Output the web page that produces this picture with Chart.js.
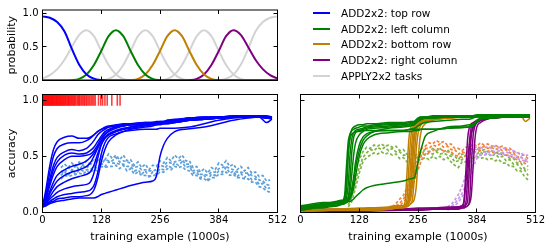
<!DOCTYPE html>
<html>
<head>
<meta charset="utf-8">
<script src="https://cdn.jsdelivr.net/npm/chart.js@4.4.1/dist/chart.umd.min.js"></script>
<style>
  html, body { margin: 0; padding: 0; background: #fff; }
  #wrap { position: relative; width: 554px; height: 249px; overflow: hidden; font-family: "DejaVu Sans", sans-serif; }
  #wrap canvas { position: absolute; left: 0; top: 0; }
  .row { position: absolute; left: 313px; height: 14px; font-size: 10.5px; line-height: 14px; white-space: nowrap; color: #000; }
  .row i { position: absolute; left: 0; top: 6px; width: 17px; height: 2px; }
  .row span { position: absolute; left: 28px; top: 0; }
</style>
</head>
<body>
<div id="wrap">
  <canvas id="top" width="554" height="249"></canvas>
  <canvas id="left" width="554" height="249"></canvas>
  <canvas id="right" width="554" height="249"></canvas>
  <div id="legend"></div>
</div>
<script>
// ---- data (x in thousands of training examples) ----
const X_TICKS = [0, 128, 256, 384, 512];
const Y_TICKS = [0, 0.5, 1.0];

// top panel: task probabilities
const PROB_X = [0,16,32,48,64,80,96,112,128,144,160,176,192,208,224,240,256,272,288,304,320,336,352,368,384,400,416,432,448,464,480,496,512];
const probTopRow    = [.955,.935,.87,.73,.47,.235,.09,.027,.006,0,0,0,0,0,0,0,0,0,0,0,0,0,0,0,0,0,0,0,0,0,0,0,0];
const probApplyA    = [.03,.08,.17,.31,.50,.68,.75,.66,.44,.23,.09,.025,.005,0,0,0,0,0,0,0,0,0,0,0,0,0,0,0,0,0,0,0,0];
const probLeftCol   = [0,0,0,0,.005,.025,.09,.23,.44,.66,.75,.66,.44,.23,.09,.025,.005,0,0,0,0,0,0,0,0,0,0,0,0,0,0,0,0];
const probApplyB    = [0,0,0,0,0,0,0,0,.005,.025,.09,.23,.44,.66,.75,.66,.44,.23,.09,.025,.005,0,0,0,0,0,0,0,0,0,0,0,0];
const probBottomRow = [0,0,0,0,0,0,0,0,0,0,0,0,.005,.025,.09,.23,.44,.66,.75,.66,.44,.23,.09,.025,.005,0,0,0,0,0,0,0,0];
const probApplyC    = [0,0,0,0,0,0,0,0,0,0,0,0,0,0,0,0,.005,.025,.09,.23,.44,.66,.75,.66,.44,.23,.09,.025,.005,0,0,0,0];
const probRightCol  = [0,0,0,0,0,0,0,0,0,0,0,0,0,0,0,0,0,0,0,0,.005,.025,.09,.23,.44,.66,.75,.68,.50,.31,.17,.08,.03];
const probApplyD    = [0,0,0,0,0,0,0,0,0,0,0,0,0,0,0,0,0,0,0,0,0,0,0,0,.006,.027,.09,.235,.47,.73,.87,.935,.955];

// left panel: ADD2x2 top row runs (solid) and APPLY2x2 runs (dashed)
const RUN_X = [0,8,16,24,32,48,64,80,96,104,112,120,128,136,144,160,176,192,224,240,248,256,264,272,288,320,352,384,416,448,472,488,500];
const topRowRuns = [
  [.05,.22,.42,.56,.63,.67,.68,.66,.66,.67,.69,.72,.74,.75,.76,.77,.78,.78,.79,.79,.80,.80,.80,.81,.82,.84,.85,.85,.86,.86,.85,.85,.84],
  [.05,.18,.36,.50,.57,.61,.62,.62,.64,.66,.69,.72,.74,.76,.77,.78,.79,.79,.80,.80,.80,.81,.81,.82,.83,.84,.85,.85,.86,.86,.86,.86,.85],
  [.05,.16,.30,.42,.49,.54,.56,.55,.57,.60,.64,.69,.72,.74,.76,.77,.78,.79,.80,.80,.81,.81,.81,.82,.82,.84,.84,.85,.85,.86,.86,.85,.84],
  [.05,.14,.27,.38,.45,.51,.53,.52,.53,.55,.58,.63,.68,.72,.74,.76,.77,.78,.79,.80,.80,.80,.81,.81,.82,.83,.84,.85,.85,.85,.85,.84,.83],
  [.05,.13,.24,.34,.41,.47,.50,.50,.51,.52,.55,.60,.66,.70,.73,.76,.77,.78,.79,.79,.79,.80,.80,.80,.81,.83,.84,.84,.85,.85,.85,.85,.84],
  [.05,.11,.19,.27,.33,.38,.41,.43,.46,.49,.53,.58,.64,.69,.72,.75,.77,.78,.79,.79,.80,.80,.80,.81,.82,.83,.84,.85,.85,.86,.86,.85,.85],
  [.05,.10,.17,.23,.28,.33,.36,.38,.41,.44,.50,.57,.63,.67,.70,.73,.75,.76,.78,.79,.79,.79,.80,.80,.81,.82,.83,.84,.85,.85,.85,.85,.84],
  [.05,.09,.14,.19,.23,.27,.30,.32,.34,.36,.42,.52,.61,.66,.69,.72,.74,.76,.78,.78,.79,.79,.79,.80,.80,.82,.83,.84,.85,.85,.85,.85,.84],
  [.05,.08,.12,.15,.18,.21,.23,.24,.25,.27,.35,.48,.60,.66,.69,.72,.74,.75,.77,.78,.78,.79,.79,.79,.80,.82,.83,.84,.85,.85,.85,.84,.84],
  [.05,.07,.10,.12,.14,.16,.17,.18,.19,.20,.24,.35,.52,.62,.67,.70,.72,.73,.74,.74,.74,.75,.75,.75,.75,.76,.79,.82,.84,.85,.85,.84,.84],
  [.05,.07,.09,.10,.12,.13,.14,.14,.15,.16,.20,.30,.45,.56,.63,.69,.72,.74,.76,.77,.78,.78,.79,.79,.80,.82,.83,.84,.85,.85,.85,.85,.84],
  [.05,.06,.08,.09,.10,.11,.12,.13,.13,.13,.13,.14,.16,.17,.18,.20,.22,.24,.27,.28,.32,.50,.60,.66,.72,.745,.76,.79,.82,.84,.85,.80,.83]
];
const APPLY_X_LEFT = [40,48,56,64,72,80,88,96,104,112,120,128,136,144,152,160,168,176,184,192,200,208,216,224,232,240,248,256,264,272,280,288,296,304,312,320,328,336,344,352,360,368,376,384,392,400,408,416,424,432,440,448,456,464,472,480,488,496];
const applyRunsLeft = [
  [.40,.43,.40,.44,.41,.45,.42,.46,.43,.48,.45,.50,.47,.52,.48,.51,.47,.51,.46,.47,.42,.45,.40,.43,.38,.42,.41,.46,.44,.49,.46,.51,.48,.51,.46,.46,.40,.41,.36,.39,.35,.40,.38,.44,.42,.46,.41,.43,.38,.41,.37,.40,.35,.36,.32,.33,.28,.29],
  [.37,.35,.40,.37,.42,.38,.42,.39,.44,.41,.46,.43,.47,.46,.46,.49,.45,.46,.45,.44,.40,.41,.38,.38,.37,.37,.38,.42,.41,.45,.44,.45,.46,.47,.43,.43,.37,.38,.34,.34,.33,.36,.36,.39,.40,.41,.39,.38,.36,.36,.35,.35,.33,.32,.29,.28,.25,.24],
  [.33,.36,.33,.38,.34,.38,.37,.38,.38,.41,.39,.44,.41,.45,.44,.44,.43,.43,.41,.41,.37,.38,.34,.37,.32,.36,.34,.39,.38,.42,.40,.44,.42,.45,.40,.41,.35,.36,.31,.33,.29,.34,.33,.37,.36,.40,.35,.37,.32,.35,.31,.34,.29,.30,.25,.26,.21,.22],
  [.30,.33,.32,.33,.34,.35,.34,.37,.35,.39,.36,.41,.40,.41,.41,.42,.39,.42,.37,.39,.34,.36,.33,.33,.32,.33,.33,.36,.36,.39,.38,.41,.40,.41,.38,.37,.33,.33,.30,.30,.28,.31,.31,.34,.34,.36,.33,.34,.31,.31,.30,.30,.27,.27,.23,.22,.19,.18]
];
// red rug: training examples where the top-row task was drawn
const rugX = [0,1,2,3,5,6,7,9,10,11,13,14,15,17,18,20,21,22,24,25,27,28,30,31,33,34,36,37,39,40,42,44,45,47,49,50,52,54,56,57,59,61,63,65,
  67,69,71,73,76,78,80,82,85,87,90,92,95,97,100,103,106,109,112,115,
  122,127,131,136,141,151,163,169];

// right panel: other ADD2x2 tasks (solid) and APPLY2x2 runs (dashed)
const LEFTCOL_X = [0,16,32,48,64,80,88,96,100,104,108,112,116,120,128,136,144,160,192,224,240,248,256,264,272,288,320,352,368,376,384,392,416,448,480,500];
const leftColRuns = [
  [.04,.05,.05,.06,.07,.08,.09,.15,.40,.63,.70,.73,.74,.75,.76,.77,.77,.78,.79,.79,.80,.81,.84,.85,.85,.85,.85,.86,.86,.86,.86,.86,.87,.87,.87,.86],
  [.03,.04,.05,.05,.06,.07,.08,.10,.20,.50,.68,.74,.76,.77,.78,.78,.79,.79,.80,.80,.81,.81,.84,.85,.85,.86,.86,.86,.86,.86,.87,.87,.87,.87,.87,.87],
  [.05,.06,.07,.08,.08,.09,.10,.11,.13,.25,.52,.66,.71,.73,.74,.75,.76,.77,.78,.78,.79,.80,.83,.84,.85,.85,.85,.86,.86,.86,.86,.86,.86,.87,.87,.86],
  [.02,.03,.04,.04,.05,.06,.07,.08,.09,.12,.30,.55,.67,.71,.73,.74,.75,.76,.77,.78,.78,.79,.82,.84,.84,.85,.85,.85,.85,.86,.86,.86,.86,.86,.86,.85],
  [.06,.07,.08,.09,.09,.10,.11,.11,.12,.14,.20,.35,.52,.62,.69,.72,.74,.75,.76,.77,.78,.79,.82,.83,.84,.84,.85,.85,.85,.85,.86,.86,.86,.86,.86,.86],
  [.03,.04,.05,.06,.07,.08,.08,.09,.10,.11,.13,.18,.28,.40,.55,.64,.68,.72,.75,.76,.77,.78,.81,.83,.84,.84,.85,.85,.85,.85,.86,.86,.86,.86,.86,.85],
  [.04,.05,.06,.07,.08,.09,.10,.12,.25,.55,.66,.70,.71,.72,.72,.73,.73,.73,.73,.73,.74,.75,.77,.79,.80,.81,.82,.83,.83,.84,.85,.85,.85,.86,.86,.85],
  [.05,.06,.07,.07,.08,.09,.10,.10,.11,.12,.15,.22,.32,.45,.60,.67,.70,.72,.73,.73,.74,.74,.74,.74,.74,.74,.75,.755,.76,.77,.82,.84,.85,.85,.85,.85],
  [.02,.03,.04,.05,.06,.06,.07,.08,.09,.10,.12,.16,.22,.32,.50,.60,.65,.69,.71,.72,.72,.73,.73,.74,.74,.74,.75,.76,.76,.78,.81,.83,.84,.85,.85,.85],
  [.03,.04,.05,.06,.07,.08,.08,.09,.09,.10,.10,.11,.12,.14,.17,.20,.22,.24,.26,.28,.30,.31,.45,.58,.68,.72,.76,.77,.78,.78,.81,.83,.84,.85,.85,.85]
];
const BOTTOMROW_X = [0,64,128,192,208,224,228,232,236,240,244,248,252,256,260,264,272,288,320,352,384,416,448,480,490,500];
const bottomRowRuns = [
  [.02,.02,.03,.04,.05,.06,.10,.35,.65,.75,.78,.79,.80,.81,.82,.82,.83,.84,.85,.85,.86,.86,.86,.86,.86,.86],
  [.01,.02,.02,.03,.04,.05,.06,.12,.40,.66,.75,.78,.80,.81,.82,.83,.84,.85,.85,.86,.86,.86,.87,.87,.87,.86],
  [.02,.03,.03,.04,.05,.05,.06,.08,.15,.45,.68,.76,.79,.80,.81,.82,.83,.84,.85,.85,.86,.86,.86,.86,.86,.86],
  [.01,.02,.03,.03,.04,.05,.05,.06,.09,.25,.55,.72,.77,.79,.80,.81,.82,.84,.85,.85,.85,.86,.86,.86,.81,.84],
  [.02,.02,.03,.04,.05,.06,.07,.08,.10,.18,.42,.66,.75,.78,.80,.81,.82,.83,.84,.85,.85,.86,.86,.86,.86,.86],
  [.03,.03,.04,.05,.06,.06,.07,.08,.09,.12,.25,.50,.70,.76,.78,.80,.81,.83,.84,.85,.85,.86,.86,.86,.86,.85],
  [.01,.02,.02,.03,.04,.04,.05,.05,.06,.08,.12,.30,.55,.70,.76,.79,.81,.83,.84,.85,.86,.86,.86,.86,.86,.86],
  [.02,.02,.03,.04,.05,.05,.06,.06,.07,.08,.09,.12,.22,.45,.65,.74,.79,.82,.84,.85,.85,.85,.86,.86,.86,.86]
];
const RIGHTCOL_X = [0,128,224,256,288,320,340,352,356,360,364,368,372,376,380,384,392,400,416,448,480,500];
const rightColRuns = [
  [.02,.02,.03,.03,.03,.03,.04,.05,.08,.35,.65,.76,.79,.80,.81,.82,.83,.84,.85,.86,.86,.86],
  [.01,.02,.02,.02,.03,.03,.03,.04,.05,.08,.30,.62,.76,.79,.80,.81,.82,.83,.85,.85,.86,.86],
  [.02,.02,.03,.03,.04,.04,.05,.05,.06,.07,.10,.40,.68,.77,.79,.80,.82,.83,.84,.85,.86,.85],
  [.01,.01,.02,.02,.03,.03,.03,.04,.04,.05,.06,.10,.40,.68,.77,.80,.82,.83,.84,.85,.85,.85],
  [.02,.02,.02,.03,.03,.04,.04,.04,.05,.05,.06,.08,.15,.40,.65,.76,.80,.82,.84,.85,.86,.86],
  [.03,.03,.03,.04,.04,.05,.05,.06,.10,.25,.45,.60,.70,.75,.78,.80,.82,.83,.84,.85,.85,.85]
];
const APPLY_X_GREEN = [104,112,120,128,136,144,152,160,168,176,184,192,200,208,216,224,232,240,248,256,264,272,280,288,296,304,312,320,328,336,344,352,360,368,376,384,392,400,408,416,424,432,440,448,456,464,472,480,488,496];
const applyRunsGreen = [
  [.10,.20,.38,.47,.54,.58,.57,.60,.59,.61,.59,.60,.58,.59,.55,.56,.52,.52,.50,.53,.54,.56,.54,.57,.55,.57,.54,.56,.52,.50,.47,.52,.52,.56,.55,.57,.55,.56,.54,.55,.53,.54,.51,.51,.48,.48,.44,.44,.39,.38],
  [.07,.14,.28,.40,.49,.53,.56,.55,.58,.56,.58,.55,.57,.54,.54,.51,.51,.47,.49,.49,.53,.51,.53,.52,.54,.52,.53,.51,.50,.45,.46,.47,.51,.51,.54,.52,.54,.51,.53,.50,.52,.49,.50,.46,.47,.43,.43,.39,.38,.33],
  [.05,.10,.22,.35,.45,.49,.51,.53,.52,.54,.52,.53,.51,.52,.48,.49,.45,.45,.43,.47,.47,.49,.47,.50,.48,.50,.47,.49,.45,.42,.40,.45,.45,.49,.48,.50,.48,.49,.47,.48,.46,.47,.44,.44,.41,.41,.37,.37,.32,.29]
];
const APPLY_X_ORANGE = [200,208,216,224,232,240,248,256,264,272,280,288,296,304,312,320,328,336,344,352,360,368,376,384,392,400,408,416,424,432,440,448,456,464,472,480,488,496];
const applyRunsOrange = [
  [.05,.08,.12,.15,.22,.30,.41,.50,.57,.59,.62,.61,.64,.62,.63,.60,.61,.57,.57,.55,.58,.58,.61,.59,.62,.60,.61,.59,.60,.58,.59,.57,.57,.54,.54,.51,.51,.48],
  [.03,.06,.08,.12,.16,.24,.34,.44,.51,.57,.57,.60,.59,.61,.58,.59,.56,.56,.52,.54,.53,.57,.56,.59,.57,.59,.57,.58,.56,.57,.55,.56,.53,.53,.49,.50,.46,.45],
  [.02,.04,.06,.09,.13,.20,.28,.38,.47,.52,.54,.55,.57,.56,.55,.54,.54,.51,.50,.49,.51,.52,.54,.54,.55,.54,.55,.53,.54,.52,.53,.51,.51,.48,.47,.45,.44,.41]
];
const APPLY_X_PURPLE = [320,328,336,344,352,360,368,376,384,392,400,408,416,424,432,440,448,456,464,472,480,488,496];
const applyRunsPurple = [
  [.05,.07,.11,.16,.23,.33,.44,.53,.56,.58,.57,.59,.57,.59,.58,.57,.57,.55,.55,.53,.53,.51,.51],
  [.03,.05,.08,.12,.17,.24,.34,.45,.51,.52,.54,.53,.55,.54,.55,.53,.54,.52,.51,.50,.49,.48,.46],
  [.02,.04,.06,.09,.14,.20,.30,.40,.48,.51,.51,.52,.51,.53,.52,.52,.51,.50,.49,.48,.47,.46,.45]
];

// ---- colours ----
const C = {
  top: '#0000ff', left: '#008000', bottom: '#bf7f00', right: '#800080', apply: '#d3d3d3',
  topApply: '#5fa0d8', leftApply: '#7fb548', bottomApply: '#f0843c', rightApply: '#c89af0'
};

const legendItems = [
  ['ADD2x2: top row', C.top],
  ['ADD2x2: left column', C.left],
  ['ADD2x2: bottom row', C.bottom],
  ['ADD2x2: right column', C.right],
  ['APPLY2x2 tasks', C.apply]
];

Chart.defaults.font.family = '"DejaVu Sans", sans-serif';
Chart.defaults.color = '#000';

const pts = (xs, ys) => xs.map((x, i) => ({ x, y: ys[i] }));
const solid = (xs, ys, color, w) => ({
  data: pts(xs, ys), borderColor: color, borderWidth: w || 1.5, pointRadius: 0,
  fill: false, cubicInterpolationMode: 'monotone'
});
const dashed = (xs, ys, color) => ({
  data: pts(xs, ys), borderColor: color, borderWidth: 1.7, borderDash: [3, 2],
  pointRadius: 0, fill: false, tension: 0
});

// box and inward tick marks on all four sides
const frame = {
  id: 'frame',
  afterDraw(chart) {
    const { ctx, chartArea: a, scales: { x, y } } = chart;
    ctx.save();
    ctx.strokeStyle = '#000';
    ctx.lineWidth = 1;
    ctx.beginPath();
    x.ticks.forEach(t => {
      const px = Math.floor(x.getPixelForValue(t.value)) + 0.5;
      ctx.moveTo(px, a.bottom); ctx.lineTo(px, a.bottom - 4);
      ctx.moveTo(px, a.top); ctx.lineTo(px, a.top + 4);
    });
    y.ticks.forEach(t => {
      const py = Math.floor(y.getPixelForValue(t.value)) + 0.5;
      ctx.moveTo(a.left, py); ctx.lineTo(a.left + 4, py);
      ctx.moveTo(a.right, py); ctx.lineTo(a.right - 4, py);
    });
    ctx.stroke();
    ctx.strokeRect(a.left, a.top, a.right - a.left, a.bottom - a.top);
    ctx.restore();
  }
};

function panel(id, cfg) {
  return new Chart(document.getElementById(id), {
    type: 'line',
    data: { datasets: cfg.datasets },
    options: {
      responsive: false,
      animation: false,
      devicePixelRatio: 1,
      events: [],
      layout: { padding: cfg.padding },
      plugins: { legend: { display: false }, tooltip: { enabled: false } },
      scales: {
        x: {
          type: 'linear', min: 0, max: 512,
          grid: { display: false, drawTicks: false },
          border: { display: false },
          afterBuildTicks: s => { s.ticks = X_TICKS.map(v => ({ value: v })); },
          afterFit: s => { s.height = cfg.xh; },
          ticks: { display: cfg.xLabels, padding: 2, font: { size: 10 }, maxRotation: 0, autoSkip: false, callback: v => String(v) },
          title: { display: !!cfg.xTitle, text: cfg.xTitle, font: { size: 11 }, padding: { top: 0, bottom: 5.7 } }
        },
        y: {
          type: 'linear', min: 0, max: 1.05,
          grid: { display: false, drawTicks: false },
          border: { display: false },
          afterBuildTicks: s => { s.ticks = Y_TICKS.map(v => ({ value: v })); },
          afterFit: s => { s.width = cfg.yw; },
          ticks: { display: cfg.yLabels, padding: 4, font: { size: 10 }, callback: v => v.toFixed(1) },
          title: { display: !!cfg.yTitle, text: cfg.yTitle, font: { size: 11 }, padding: { top: 5.7, bottom: 0 } }
        }
      }
    },
    plugins: [frame]
  });
}

// top: probability of each task over training
panel('top', {
  padding: { left: 0, top: 9.5, right: 276.5, bottom: 168.5 },
  xh: 0, yw: 42.5, xLabels: false, yLabels: true, yTitle: 'probability',
  datasets: [
    solid(PROB_X, probTopRow, C.top, 2),
    solid(PROB_X, probLeftCol, C.left, 2),
    solid(PROB_X, probBottomRow, C.bottom, 2),
    solid(PROB_X, probRightCol, C.right, 2),
    solid(PROB_X, probApplyA, C.apply, 2),
    solid(PROB_X, probApplyB, C.apply, 2),
    solid(PROB_X, probApplyC, C.apply, 2),
    solid(PROB_X, probApplyD, C.apply, 2)
  ]
});

// bottom left: accuracy on the top-row task
panel('left', {
  padding: { left: 0, top: 94.5, right: 276.5, bottom: 0 },
  xh: 36.5, yw: 42.5, xLabels: true, yLabels: true,
  xTitle: 'training example (1000s)', yTitle: 'accuracy',
  datasets: [
    {
      type: 'scatter', data: rugX.map(x => ({ x, y: 1.0 })),
      pointStyle: 'line', pointRotation: 90, pointRadius: 5.6,
      pointBorderColor: 'rgba(255,0,0,0.75)', pointBorderWidth: 1.6, showLine: false
    },
    ...topRowRuns.map(r => solid(RUN_X, r, C.top)),
    ...applyRunsLeft.map(r => dashed(APPLY_X_LEFT, r, C.topApply))
  ]
});

// bottom right: accuracy on the later tasks
panel('right', {
  padding: { left: 280.5, top: 94.5, right: 18.5, bottom: 0 },
  xh: 36.5, yw: 20, xLabels: true, yLabels: false,
  xTitle: 'training example (1000s)',
  datasets: [
    ...leftColRuns.map(r => solid(LEFTCOL_X, r, C.left)),
    ...bottomRowRuns.map(r => solid(BOTTOMROW_X, r, C.bottom)),
    ...rightColRuns.map(r => solid(RIGHTCOL_X, r, C.right)),
    ...applyRunsPurple.map(r => dashed(APPLY_X_PURPLE, r, C.rightApply)),
    ...applyRunsOrange.map(r => dashed(APPLY_X_ORANGE, r, C.bottomApply)),
    ...applyRunsGreen.map(r => dashed(APPLY_X_GREEN, r, C.leftApply))
  ]
});

// legend
const legend = document.getElementById('legend');
legendItems.forEach(([label, color], i) => {
  const row = document.createElement('div');
  row.className = 'row';
  row.style.top = (6 + i * 15.7) + 'px';
  row.innerHTML = '<i style="background:' + color + '"></i><span>' + label + '</span>';
  legend.appendChild(row);
});
</script>
</body>
</html>
